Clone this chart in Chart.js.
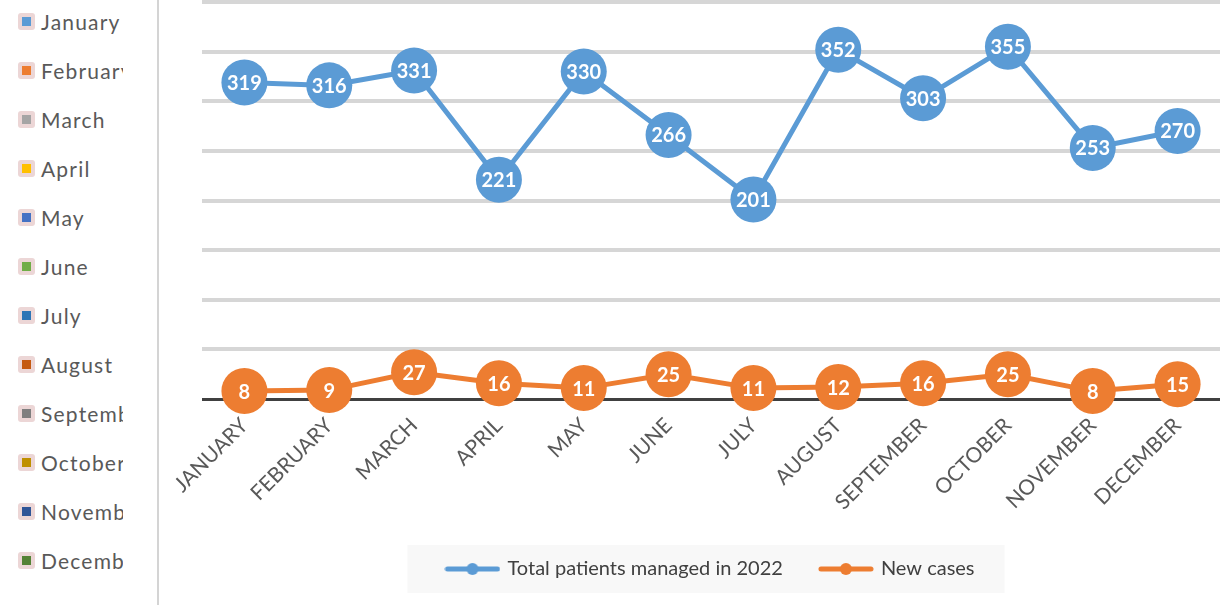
<!DOCTYPE html>
<html>
<head>
<meta charset="utf-8">
<script src="https://cdn.jsdelivr.net/npm/chart.js@4.4.0/dist/chart.umd.min.js"></script>
<style>
  body { margin: 0; background: #fff; }
  #wrap { position: relative; width: 1225px; height: 605px; overflow: hidden; }
  #side { position: absolute; left: 0; top: 0; width: 157px; height: 605px; border-right: 2px solid #d4d4d4; }
  .item { position: absolute; left: 18px; width: 105px; height: 26px; display: flex; align-items: center;
          font: 21px Lato, sans-serif; letter-spacing: 1.2px; color: #595959; overflow: hidden; white-space: nowrap; }
  .sw { flex: none; position: relative; width: 17px; height: 17px; border-radius: 3px; background: #ecd6d6; margin-right: 6px; }
  .sw i { position: absolute; left: 4px; top: 4px; width: 9px; height: 9px; }
  canvas { position: absolute; left: 0; top: 0; }
</style>
</head>
<body>
<div id="wrap">
  <div id="side"></div>
  <canvas id="chart" width="1225" height="605"></canvas>
</div>
<script>
// 資料
const months = ['JANUARY', 'FEBRUARY', 'MARCH', 'APRIL', 'MAY', 'JUNE',
                'JULY', 'AUGUST', 'SEPTEMBER', 'OCTOBER', 'NOVEMBER', 'DECEMBER'];
const totalPatients = [319, 316, 331, 221, 330, 266, 201, 352, 303, 355, 253, 270];
const newCases = [8, 9, 27, 16, 11, 25, 11, 12, 16, 25, 8, 15];
const sideNames = ['January', 'February', 'March', 'April', 'May', 'June',
                   'July', 'August', 'September', 'October', 'November', 'December'];
const sideColors = ['#5b9bd5', '#ed7d31', '#a5a5a5', '#ffc000', '#4472c4', '#70ad47',
                    '#2e75b6', '#c55a11', '#7f7f7f', '#bf9000', '#2f5597', '#548235'];

// 左側圖例
const side = document.getElementById('side');
sideNames.forEach((name, i) => {
    const d = document.createElement('div');
    d.className = 'item';
    d.style.top = (8 + 49 * i) + 'px';
    d.innerHTML = '<span class="sw"><i style="background:' + sideColors[i] + '"></i></span>' + name;
    side.appendChild(d);
});

// 圖例的線條符號
function legendMark(color) {
    const c = document.createElement('canvas');
    c.width = 56; c.height = 14;
    const g = c.getContext('2d');
    g.strokeStyle = color; g.lineWidth = 5; g.lineCap = 'round';
    g.beginPath(); g.moveTo(3, 7); g.lineTo(53, 7); g.stroke();
    g.fillStyle = color;
    g.beginPath(); g.arc(28, 7, 6, 0, Math.PI * 2); g.fill();
    return c;
}

// 數值標籤
const pointLabels = {
    id: 'pointLabels',
    afterDatasetsDraw(chart) {
        const ctx = chart.ctx;
        ctx.save();
        ctx.font = 'bold 20px Lato, sans-serif';
        ctx.fillStyle = '#ffffff';
        ctx.textAlign = 'center';
        ctx.textBaseline = 'middle';
        chart.data.datasets.forEach((ds, i) => {
            chart.getDatasetMeta(i).data.forEach((pt, j) => {
                ctx.fillText(ds.data[j], pt.x, pt.y + 1);
            });
        });
        ctx.restore();
    }
};

// 圖例底色
const legendBox = {
    id: 'legendBox',
    beforeDraw(chart) {
        const hb = chart.legend.legendHitBoxes;
        if (!hb || !hb.length) return;
        const left = Math.min(...hb.map(b => b.left)) - 40;
        const right = Math.max(...hb.map(b => b.left + b.width)) + 30;
        const yc = hb[0].top + hb[0].height / 2;
        const ctx = chart.ctx;
        ctx.save();
        ctx.fillStyle = '#f8f8f8';
        ctx.fillRect(left, yc - 24, right - left, 48);
        ctx.restore();
    }
};

const ctx = document.getElementById('chart').getContext('2d');
const myChart = new Chart(ctx, {
    type: 'line',
    data: {
        labels: months,
        datasets: [{
            label: 'Total patients managed in 2022',
            data: totalPatients,
            borderColor: '#5b9bd5',
            backgroundColor: '#5b9bd5',
            borderWidth: 5,
            pointRadius: 23,
            pointHoverRadius: 23,
            pointBorderWidth: 0,
            clip: false
        }, {
            label: 'New cases',
            data: newCases,
            borderColor: '#ed7d31',
            backgroundColor: '#ed7d31',
            borderWidth: 5,
            pointRadius: 23,
            pointHoverRadius: 23,
            pointBorderWidth: 0,
            clip: false
        }]
    },
    options: {
        responsive: false,
        animation: false,
        layout: { autoPadding: false, padding: { left: 202, right: 5, top: 2, bottom: 16 } },
        plugins: {
            tooltip: { enabled: false },
            legend: {
                position: 'bottom',
                labels: {
                    usePointStyle: true,
                    pointStyleWidth: 50,
                    padding: 38,
                    color: '#404040',
                    font: { family: 'Lato', size: 20 },
                    generateLabels(chart) {
                        return chart.data.datasets.map((ds, i) => ({
                            text: ds.label,
                            pointStyle: legendMark(ds.borderColor),
                            fillStyle: ds.borderColor,
                            strokeStyle: ds.borderColor,
                            lineWidth: 0,
                            fontColor: '#404040',
                            datasetIndex: i
                        }));
                    }
                }
            }
        },
        scales: {
            x: {
                offset: true,
                grid: { display: false },
                border: { display: false },
                ticks: {
                    minRotation: 45,
                    maxRotation: 45,
                    padding: 6,
                    color: '#595959',
                    font: { family: 'Lato', size: 21 }
                }
            },
            y: {
                min: 0,
                max: 400,
                ticks: { display: false, stepSize: 50 },
                border: { display: false },
                grid: {
                    drawTicks: false,
                    color: c => c.tick.value === 0 ? '#404040' : '#d6d6d6',
                    lineWidth: c => c.tick.value === 0 ? 3 : 4
                }
            }
        }
    },
    plugins: [legendBox, pointLabels]
});
</script>
</body>
</html>
